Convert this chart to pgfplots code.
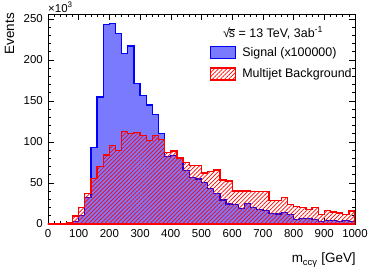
\documentclass[border=0pt]{standalone}
\usepackage{fontspec}
\setmainfont{Liberation Sans}
\usepackage{pgfplots}
\pgfplotsset{compat=1.18}
\usetikzlibrary{patterns.meta}
\definecolor{sigfill}{rgb}{0.48,0.48,1}
\begin{document}
\begin{tikzpicture}
\path[use as bounding box] (-48bp,-47bp) rectangle (326bp,224bp);
\begin{axis}[
 at={(0,0)}, anchor=south west,
 scale only axis, width=307bp, height=210bp,
 clip mode=individual,
 xmin=0, xmax=1000, ymin=0, ymax=256,
 xtick={0,100,...,1000}, ytick={0,50,...,250},
 minor x tick num=4, minor y tick num=4,
 scaled x ticks=false, scaled y ticks=false,
 tick align=inside,
 major tick length=6bp, minor tick length=3bp,
 tick style={black, line width=0.6bp},
 axis line style={line width=0.8bp},
 /pgf/number format/1000 sep={},
 /pgf/number format/assume math mode=true,
 ticklabel style={font=\fontsize{11.5}{13}\selectfont, inner sep=0pt},
 xticklabel style={yshift=-5bp},
 yticklabel style={xshift=-5bp},
 label style={font=\fontsize{13.5}{16}\selectfont, inner sep=0pt},
 xlabel={m\textsubscript{ccγ} [GeV]},
 xlabel style={at={(axis description cs:1.003,-0.1857)}, anchor=base east},
 ylabel={Events},
 ylabel style={at={(axis description cs:-0.1254,1.005)}, anchor=east},
 legend style={at={(axis description cs:0.5277,0.8476)}, anchor=north west,
   draw=none, fill=none, inner sep=0pt, outer sep=0pt,
   row sep=8bp, column sep=6bp,
   nodes={inner sep=0pt, text height=10bp, text depth=2bp},
   font=\fontsize{12.5}{15}\selectfont, cells={anchor=west}},
 legend cell align=left,
 legend image code/.code={\draw[#1] (0bp,-6bp) rectangle (25bp,6bp);},
]
\addplot[const plot, draw=blue, line width=1.3bp, fill=sigfill] coordinates {
(0,0)(20,0)(40,0)(60,0.5)(80,2.8)(100,10.5)(120,32)(140,93.5)(160,155)(180,243)
(200,244.5)(220,232.5)(240,208)(260,217)(280,171.5)(300,156.5)(320,145)(340,133.5)(360,110.6)(380,82.5)
(400,83.5)(420,79.5)(440,65)(460,56.5)(480,55)(500,51)(520,43.5)(540,37)(560,29.3)(580,24.4)
(600,23.5)(620,18.5)(640,25)(660,20)(680,17.5)(700,16.5)(720,12.8)(740,12.2)(760,13.8)(780,11.8)
(800,5.7)(820,6.5)(840,6.5)(860,5.3)(880,2.8)(900,4.3)(920,3.9)(940,2.9)(960,4.3)(980,2.8)(1000,2.8)
} \closedcycle;
\addlegendentry{Signal (x100000)}
\addplot[const plot, draw=red, line width=1.3bp, pattern={Lines[angle=45,distance=2.9bp,line width=0.7bp]}, pattern color=red] coordinates {
(0,0.5)(20,0.5)(40,0.5)(60,1.8)(80,9.8)(100,20.5)(120,37.5)(140,55.7)(160,70)(180,84)
(200,96)(220,90)(240,112.6)(260,110)(280,111.5)(300,107.5)(320,101.5)(340,108)(360,103)(380,87.4)
(400,89)(420,80.5)(440,75)(460,71.5)(480,71)(500,62)(520,63.8)(540,65.9)(560,53.7)(580,52.6)
(600,40.2)(620,40.2)(640,40.2)(660,40)(680,39.6)(700,39.4)(720,28.5)(740,28.5)(760,32.3)(780,23.5)
(800,21.3)(820,20)(840,18)(860,20.5)(880,12)(900,16.5)(920,14.6)(940,13.5)(960,11.3)(980,16)(1000,16)
} \closedcycle;
\addlegendentry{Multijet Background}
\node[anchor=base west, inner sep=0pt, yshift=2bp, font=\fontsize{11.5}{13}\selectfont] at (rel axis cs:0,1) {×10\textsuperscript{3}};
\node[anchor=base, inner sep=0pt, font=\fontsize{12.5}{15}\selectfont] at (axis description cs:0.733,0.890) {√\kern-0.08em$\overline{\hbox{s}}$ = 13 TeV, 3ab\textsuperscript{-1}};
\end{axis}
\end{tikzpicture}
\end{document}
